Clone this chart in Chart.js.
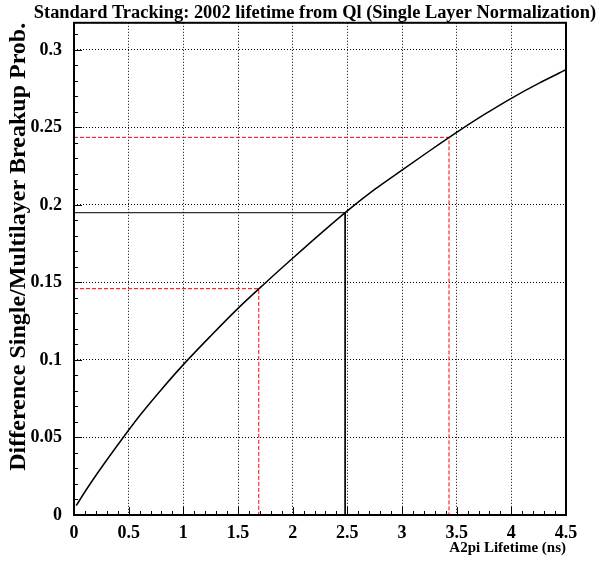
<!DOCTYPE html>
<html>
<head>
<meta charset="utf-8">
<script src="https://cdn.jsdelivr.net/npm/chart.js@4.4.1/dist/chart.umd.min.js"></script>
<style>
  body { margin: 0; background: #fff; }
  #wrap { width: 598px; height: 564px; }
</style>
</head>
<body>
<div id="wrap"><canvas id="myChart" width="598" height="564"></canvas></div>
<script>
// curve
var lifetime = [0.02, 0.1, 0.2, 0.3, 0.45, 0.6, 0.8, 1.0, 1.25, 1.5, 1.75, 2.0, 2.25, 2.5, 2.75, 3.0, 3.25, 3.5, 3.75, 4.0, 4.25, 4.5];
var diffProb = [0.006, 0.015, 0.0255, 0.0355, 0.050, 0.064, 0.081, 0.097, 0.1155, 0.1333, 0.1497, 0.1656, 0.1812, 0.1962, 0.2100, 0.2225, 0.2348, 0.2468, 0.2582, 0.2688, 0.2784, 0.2872];

// marker lines: black = central value, red = error band
var centralX = 2.48, centralY = 0.195;
var bandX = [1.69, 3.43];
var bandY = [0.146, 0.2436];

var xMax = 4.5, yMax = 0.3175;
var serif = "'Liberation Serif', 'Times New Roman', serif";

function pts(xs, ys) {
    var out = [];
    for (var i = 0; i < xs.length; i++) out.push({x: xs[i], y: ys[i]});
    return out;
}
function corner(x, y) {
    return [{x: 0, y: y}, {x: x, y: y}, {x: x, y: 0}];
}

// ROOT style: ticks inside the frame + full frame box
var frameTicks = {
    id: 'frameTicks',
    afterDraw: function(chart) {
        var c = chart.ctx, a = chart.chartArea;
        var sx = chart.scales.x, sy = chart.scales.y;
        c.save();
        c.strokeStyle = '#000';
        c.lineWidth = 1;
        c.beginPath();
        for (var i = 0; i <= 45; i++) {
            var px = Math.round(sx.getPixelForValue(i / 10)) + 0.5;
            var len = (i % 5 == 0) ? 8 : 4;
            c.moveTo(px, a.bottom);
            c.lineTo(px, a.bottom - len);
        }
        for (var j = 0; j <= 31; j++) {
            var py = Math.round(sy.getPixelForValue(j / 100)) + 0.5;
            var l2 = (j % 5 == 0) ? 8 : 4;
            c.moveTo(a.left, py);
            c.lineTo(a.left + l2, py);
        }
        c.stroke();
        c.lineWidth = 2;
        c.strokeRect(a.left, a.top, a.right - a.left, a.bottom - a.top);
        c.restore();
    }
};

var ctx = document.getElementById("myChart");

var chart = new Chart(ctx, {
    type: 'scatter',
    data: {
        datasets: [
            {
                data: pts(lifetime, diffProb),
                showLine: true,
                borderColor: '#000',
                borderWidth: 1.5,
                pointRadius: 0,
                cubicInterpolationMode: 'monotone'
            },
            {
                data: corner(centralX, centralY),
                showLine: true,
                borderColor: '#000',
                borderWidth: 1,
                pointRadius: 0
            },
            {
                data: corner(bandX[0], bandY[0]),
                showLine: true,
                borderColor: '#ff0000',
                borderWidth: 1,
                borderDash: [4, 2],
                pointRadius: 0
            },
            {
                data: corner(bandX[1], bandY[1]),
                showLine: true,
                borderColor: '#ff0000',
                borderWidth: 1,
                borderDash: [4, 2],
                pointRadius: 0
            }
        ]
    },
    options: {
        responsive: false,
        animation: false,
        layout: { padding: { left: 0, right: 2, top: 0, bottom: 0 } },
        plugins: {
            legend: { display: false },
            tooltip: { enabled: false },
            title: {
                display: true,
                text: 'Standard Tracking: 2002 lifetime from Ql (Single Layer Normalization)',
                color: '#000',
                align: 'end',
                font: { family: serif, size: 18.4, weight: 'bold', lineHeight: 1 },
                padding: { top: 1, bottom: 0.6 }
            }
        },
        scales: {
            x: {
                type: 'linear',
                min: 0,
                max: xMax,
                afterFit: function(s) { s.height = 49; },
                grid: { color: '#000', lineWidth: 1, drawTicks: false },
                border: { display: false, dash: [1, 2] },
                ticks: {
                    stepSize: 0.5,
                    includeBounds: false,
                    color: '#000',
                    padding: 8,
                    maxRotation: 0,
                    font: { family: serif, size: 18, weight: 'bold' },
                    callback: function(v) { return String(+v.toFixed(1)); }
                },
                title: {
                    display: true,
                    text: 'A2pi Lifetime (ns)',
                    align: 'end',
                    color: '#000',
                    font: { family: serif, size: 15, weight: 'bold', lineHeight: 1.2 },
                    padding: { top: 0, bottom: 7 }
                }
            },
            y: {
                type: 'linear',
                min: 0,
                max: yMax,
                afterFit: function(s) { s.width = 74; },
                grid: { color: '#000', lineWidth: 1, drawTicks: false },
                border: { display: false, dash: [1, 2] },
                ticks: {
                    stepSize: 0.05,
                    includeBounds: false,
                    color: '#000',
                    padding: 12,
                    font: { family: serif, size: 18, weight: 'bold' },
                    callback: function(v) { return String(+v.toFixed(2)); }
                },
                title: {
                    display: true,
                    text: 'Difference Single/Multilayer Breakup Prob.',
                    align: 'end',
                    color: '#000',
                    font: { family: serif, size: 24, weight: 'bold', lineHeight: 1.2 },
                    padding: { top: 4, bottom: 0 }
                }
            },
            // empty strip on the right so the frame ends where the reference does
            yPad: {
                type: 'linear',
                position: 'right',
                min: 0,
                max: yMax,
                afterFit: function(s) { s.width = 30; },
                grid: { display: false },
                border: { display: false },
                ticks: { display: false }
            }
        }
    },
    plugins: [frameTicks]
});
</script>
</body>
</html>
